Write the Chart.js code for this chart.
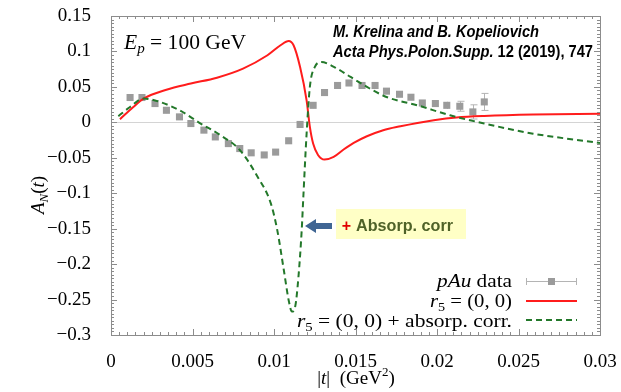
<!DOCTYPE html>
<html>
<head>
<meta charset="utf-8">
<script src="https://cdn.jsdelivr.net/npm/chart.js@4.4.1/dist/chart.umd.min.js"></script>
<style>
  html, body { margin: 0; padding: 0; background: #fff; }
  #wrap { width: 621px; height: 392px; }
</style>
</head>
<body>
<div id="wrap"><canvas id="chart" width="621" height="392"></canvas></div>
<script>
// pAu data points
const dataT = [0.00117, 0.0019, 0.0027, 0.0034, 0.0042, 0.0049, 0.0057, 0.0064, 0.0072, 0.0079,
  0.0086, 0.0094, 0.0101, 0.0109, 0.0116, 0.0124, 0.0131, 0.0139, 0.0146, 0.0154,
  0.0162, 0.0169, 0.0177, 0.0184, 0.0191, 0.0199, 0.0206, 0.0214, 0.0222, 0.0229];
const dataA = [0.035, 0.035, 0.0265, 0.017, 0.0077, -0.0017, -0.011, -0.0206, -0.030, -0.037,
  -0.043, -0.046, -0.042, -0.026, -0.003, 0.024, 0.042, 0.052, 0.0555, 0.052,
  0.052, 0.044, 0.0396, 0.0354, 0.0273, 0.0265, 0.024, 0.0227, 0.0147, 0.0288];
const dataErr = [0.004, 0.004, 0.004, 0.004, 0.004, 0.004, 0.004, 0.004, 0.004, 0.004,
  0.004, 0.004, 0.004, 0.004, 0.004, 0.004, 0.004, 0.004, 0.004, 0.004,
  0.004, 0.004, 0.004, 0.004, 0.004, 0.004, 0.005, 0.007, 0.010, 0.012];

// r5 = (0,0)
const redT = [0.00055, 0.00137, 0.002, 0.0034, 0.0049, 0.0065, 0.0081, 0.0096, 0.0104, 0.0109,
  0.0112, 0.0116, 0.0120, 0.0122, 0.0124, 0.0127, 0.0131, 0.01366, 0.01427, 0.01489,
  0.0157, 0.0167, 0.01776, 0.0188, 0.0198, 0.0212, 0.0229, 0.0259, 0.030];
const redA = [0.0044, 0.0217, 0.0335, 0.046, 0.0547, 0.063, 0.0758, 0.0946, 0.1087, 0.1147,
  0.1087, 0.078, 0.031, -0.0065, -0.030, -0.046, -0.0525, -0.0488, -0.0384, -0.029,
  -0.0196, -0.0111, -0.0055, -0.0008, 0.003, 0.0068, 0.009, 0.011, 0.012];

// r5 = (0,0) + absorp. corr.
const greenT = [0.00045, 0.00117, 0.002, 0.003, 0.0042, 0.0055, 0.0067, 0.0079, 0.009, 0.0098,
  0.0102, 0.0106, 0.0109, 0.0111, 0.0113, 0.0115, 0.0117, 0.0118, 0.0120, 0.0122,
  0.0125, 0.0129, 0.0137, 0.0147, 0.0157, 0.0169, 0.0188, 0.0208, 0.0229, 0.0259, 0.030];
const greenA = [0.0086, 0.0217, 0.0335, 0.0288, 0.017, -0.0017, -0.018, -0.039, -0.077, -0.114,
  -0.152, -0.208, -0.251, -0.267, -0.260, -0.218, -0.152, -0.105, -0.016, 0.05,
  0.078, 0.085, 0.078, 0.064, 0.050, 0.0358, 0.024, 0.010, -0.0017, -0.016, -0.029];

const xTicks = [0, 0.005, 0.01, 0.015, 0.02, 0.025, 0.03];
const xTickLabels = ["0", "0.005", "0.01", "0.015", "0.02", "0.025", "0.03"];
const yTicks = [-0.3, -0.25, -0.2, -0.15, -0.1, -0.05, 0, 0.05, 0.1, 0.15];
const yTickLabels = ["\u22120.3", "\u22120.25", "\u22120.2", "\u22120.15", "\u22120.1", "\u22120.05", "0", "0.05", "0.1", "0.15"];

const RED = "#ff1c1c";
const GREEN = "#23782a";
const GRAY = "#9b9b9b";
const SERIF = '"Liberation Serif", serif';
const SANS = '"Liberation Sans", sans-serif';

const zip = (xs, ys) => xs.map((x, i) => ({ x, y: ys[i] }));

function textRuns(ctx, parts, x, y, align) {
  let w = 0;
  parts.forEach((p) => { ctx.font = p.f; p.w = ctx.measureText(p.t).width; w += p.w; });
  let cx = align === "right" ? x - w : align === "center" ? x - w / 2 : x;
  ctx.textAlign = "left";
  ctx.textBaseline = "alphabetic";
  parts.forEach((p) => {
    ctx.font = p.f;
    ctx.fillStyle = p.c || "#000";
    ctx.fillText(p.t, cx, y + (p.dy || 0));
    cx += p.w;
  });
  return w;
}

// draw runs squeezed/stretched to a target width, starting at x
function fitRuns(ctx, parts, x, y, width) {
  let w = 0;
  parts.forEach((p) => { ctx.font = p.f; w += ctx.measureText(p.t).width; });
  ctx.save();
  ctx.translate(x, y);
  ctx.scale(width / w, 1);
  textRuns(ctx, parts, 0, 0, "left");
  ctx.restore();
}

const it = (s) => `italic ${s}px ${SERIF}`;
const rm = (s) => `${s}px ${SERIF}`;

const decor = {
  id: "decor",
  beforeDatasetsDraw(chart) {
    const { ctx, scales: { x, y } } = chart;
    ctx.save();
    // error bars
    ctx.strokeStyle = "#b4b4b4";
    ctx.lineWidth = 1;
    dataT.forEach((t, i) => {
      const px = Math.round(x.getPixelForValue(t)) + 0.5;
      const y1 = y.getPixelForValue(dataA[i] - dataErr[i]);
      const y2 = y.getPixelForValue(dataA[i] + dataErr[i]);
      ctx.beginPath();
      ctx.moveTo(px, y1); ctx.lineTo(px, y2);
      if (y1 - y2 > 9) {
        ctx.moveTo(px - 3, y1); ctx.lineTo(px + 4, y1);
        ctx.moveTo(px - 3, y2); ctx.lineTo(px + 4, y2);
      }
      ctx.stroke();
    });
    ctx.restore();
  },
  afterDraw(chart) {
    const { ctx, chartArea: a, scales: { x, y } } = chart;
    ctx.save();
    // frame + ticks
    ctx.strokeStyle = "#8c8c8c";
    ctx.lineWidth = 1;
    ctx.strokeRect(Math.round(a.left) + 0.5, Math.round(a.top) + 0.5,
      Math.round(a.right - a.left), Math.round(a.bottom - a.top));
    ctx.beginPath();
    for (let k = 0; k <= 60; k++) {
      const px = Math.round(x.getPixelForValue(k * 0.0005)) + 0.5;
      const len = k % 10 === 0 ? 6 : 3;
      ctx.moveTo(px, a.bottom); ctx.lineTo(px, a.bottom - len);
      ctx.moveTo(px, a.top); ctx.lineTo(px, a.top + len);
    }
    for (let k = 0; k <= 90; k++) {
      const py = Math.round(y.getPixelForValue(-0.3 + k * 0.005)) + 0.5;
      const len = k % 10 === 0 ? 6 : 3;
      ctx.moveTo(a.left, py); ctx.lineTo(a.left + len, py);
      ctx.moveTo(a.right, py); ctx.lineTo(a.right - len, py);
    }
    ctx.stroke();

    // axis titles
    textRuns(ctx, [
      { t: "|", f: rm(19) }, { t: "t", f: it(19) }, { t: "|  (GeV", f: rm(19) },
      { t: "2", f: rm(13), dy: -8 }, { t: ")", f: rm(19) }
    ], 356, 384, "center");
    ctx.save();
    ctx.translate(44, 195);
    ctx.rotate(-Math.PI / 2);
    textRuns(ctx, [
      { t: "A", f: it(19) }, { t: "N", f: it(13), dy: 4 }, { t: "(", f: rm(19) },
      { t: "t", f: it(19) }, { t: ")", f: rm(19) }
    ], 0, 0, "center");
    ctx.restore();

    // energy label
    fitRuns(ctx, [
      { t: "E", f: it(20) }, { t: "p", f: it(14), dy: 4 }, { t: " = 100 GeV", f: rm(20) }
    ], 124, 49, 122);

    // citation
    fitRuns(ctx, [{ t: "M. Krelina and B. Kopeliovich", f: `italic bold 16px ${SANS}` }], 333, 37, 206);
    fitRuns(ctx, [
      { t: "Acta Phys.Polon.Supp.", f: `italic bold 16px ${SANS}` },
      { t: " 12 (2019), 747", f: `bold 16px ${SANS}` }
    ], 333, 57, 260);

    // arrow + highlighted note
    ctx.fillStyle = "#3f6593";
    ctx.beginPath();
    ctx.moveTo(305, 226);
    ctx.lineTo(316, 219);
    ctx.lineTo(316, 223);
    ctx.lineTo(332, 223);
    ctx.lineTo(332, 229);
    ctx.lineTo(316, 229);
    ctx.lineTo(316, 233);
    ctx.closePath();
    ctx.fill();
    ctx.fillStyle = "#ffffc6";
    ctx.fillRect(336, 209, 130, 30);
    textRuns(ctx, [{ t: "+", f: `bold 16px ${SANS}`, c: "#e00000" }], 346.5, 231, "center");
    fitRuns(ctx, [{ t: "Absorp. corr", f: `bold 16px ${SANS}`, c: "#4f6228" }], 356, 231, 97);

    // legend
    const lx = 512, s0 = 526, s1 = 577;
    fitRuns(ctx, [{ t: "pAu", f: it(19) }, { t: " data", f: rm(19) }], lx - 75, 287, 75);
    fitRuns(ctx, [
      { t: "r", f: it(19) }, { t: "5", f: rm(13), dy: 4 }, { t: " = (0, 0)", f: rm(19) }
    ], lx - 82, 306.5, 82);
    fitRuns(ctx, [
      { t: "r", f: it(19) }, { t: "5", f: rm(13), dy: 4 }, { t: " = (0, 0) + absorp. corr.", f: rm(19) }
    ], lx - 215, 326.5, 215);

    ctx.strokeStyle = "#b4b4b4";
    ctx.lineWidth = 1;
    ctx.beginPath();
    ctx.moveTo(s0, 281.5); ctx.lineTo(s1, 281.5);
    ctx.moveTo(s0 + 0.5, 278); ctx.lineTo(s0 + 0.5, 285);
    ctx.moveTo(s1 - 0.5, 278); ctx.lineTo(s1 - 0.5, 285);
    ctx.stroke();
    ctx.fillStyle = GRAY;
    ctx.fillRect(548, 278, 7, 7);

    ctx.lineWidth = 2;
    ctx.strokeStyle = RED;
    ctx.beginPath(); ctx.moveTo(s0, 301); ctx.lineTo(s1, 301); ctx.stroke();
    ctx.strokeStyle = GREEN;
    ctx.setLineDash([6, 4]);
    ctx.beginPath(); ctx.moveTo(s0, 320); ctx.lineTo(s1, 320); ctx.stroke();
    ctx.restore();
  }
};

new Chart(document.getElementById("chart"), {
  type: "scatter",
  data: {
    datasets: [
      {
        label: "pAu data", data: zip(dataT, dataA), order: 3,
        pointStyle: "rect", pointRadius: 5, backgroundColor: GRAY, borderColor: GRAY, borderWidth: 0
      },
      {
        label: "r5 = (0,0)", data: zip(redT, redA), order: 2, showLine: true,
        borderColor: RED, borderWidth: 2, pointRadius: 0, cubicInterpolationMode: "monotone"
      },
      {
        label: "r5 = (0,0) + absorp. corr.", data: zip(greenT, greenA), order: 1, showLine: true,
        borderColor: GREEN, borderWidth: 2, borderDash: [6, 4], pointRadius: 0, cubicInterpolationMode: "monotone"
      }
    ]
  },
  options: {
    responsive: false,
    animation: false,
    devicePixelRatio: 1,
    layout: { padding: { top: 16, right: 21, left: 0, bottom: 0 } },
    plugins: { legend: { display: false }, tooltip: { enabled: false } },
    scales: {
      x: {
        type: "linear", min: 0, max: 0.03,
        afterBuildTicks: (axis) => { axis.ticks = xTicks.map((v) => ({ value: v })); },
        afterFit: (axis) => { axis.height = 57; axis.paddingLeft = 0; axis.paddingRight = 0; },
        ticks: {
          callback: (v, i) => xTickLabels[i], color: "#000", padding: 8,
          maxRotation: 0, autoSkip: false, font: { family: "Liberation Serif", size: 19 }
        },
        grid: { display: false },
        border: { display: false }
      },
      y: {
        type: "linear", min: -0.3, max: 0.15,
        afterBuildTicks: (axis) => { axis.ticks = yTicks.map((v) => ({ value: v })); },
        afterFit: (axis) => { axis.width = 111; axis.paddingTop = 0; axis.paddingBottom = 0; },
        ticks: {
          callback: (v, i) => yTickLabels[i], color: "#000", padding: 20,
          autoSkip: false, font: { family: "Liberation Serif", size: 19 }
        },
        grid: {
          drawTicks: false,
          color: (c) => (c.tick && Math.abs(c.tick.value) < 1e-9 ? "#d4d4d4" : "rgba(0,0,0,0)")
        },
        border: { display: false }
      }
    }
  },
  plugins: [decor]
});
</script>
</body>
</html>
